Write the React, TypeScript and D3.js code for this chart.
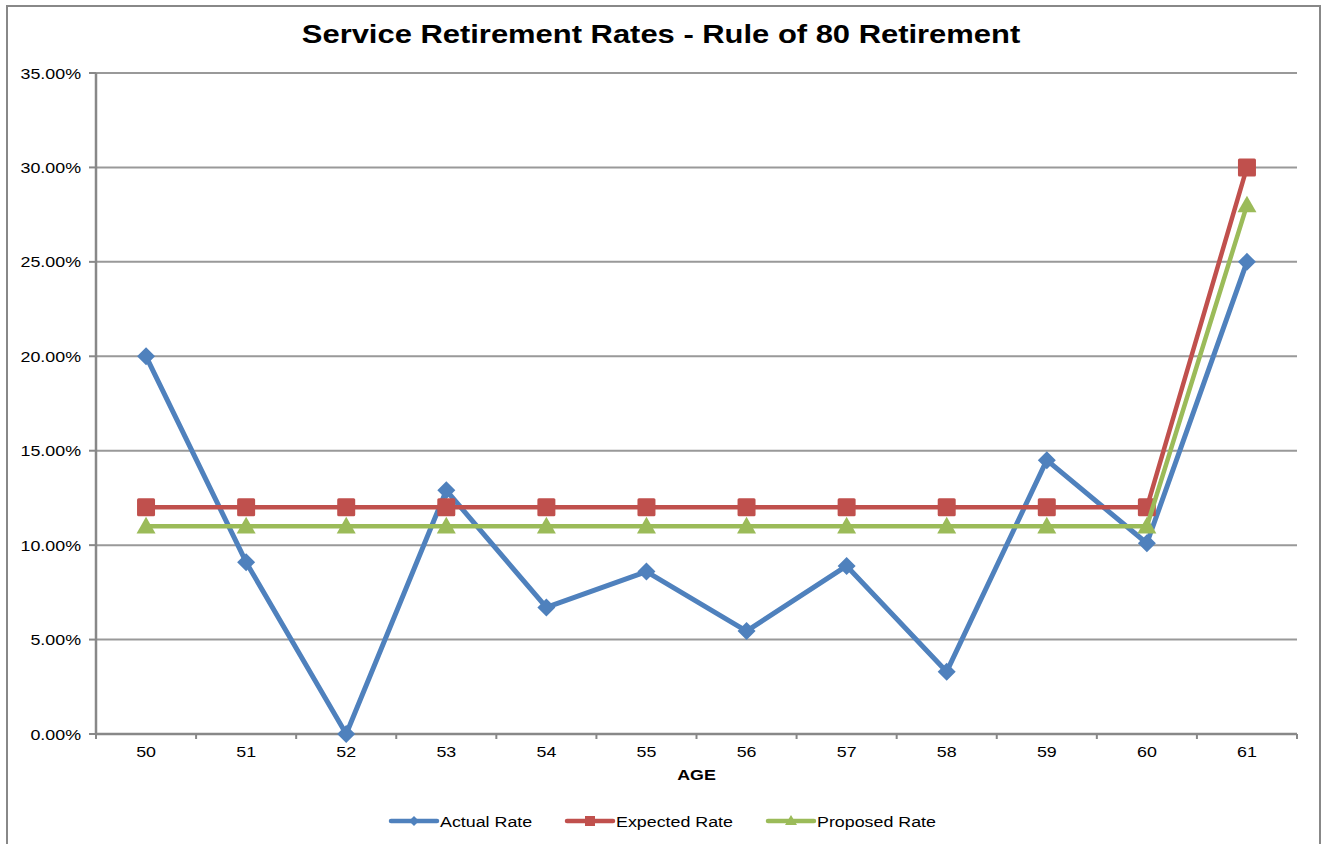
import React from "react";
import * as d3 from "d3";

const ages = ["50", "51", "52", "53", "54", "55", "56", "57", "58", "59", "60", "61"];
const actualRate = [20.0, 9.1, 0.0, 12.9, 6.7, 8.6, 5.45, 8.9, 3.3, 14.5, 10.1, 25.0];
const expectedRate = [12, 12, 12, 12, 12, 12, 12, 12, 12, 12, 12, 30];
const proposedRate = [11, 11, 11, 11, 11, 11, 11, 11, 11, 11, 11, 28];
const yTicks = [0, 5, 10, 15, 20, 25, 30, 35];
const seriesNames = ["Actual Rate", "Expected Rate", "Proposed Rate"];
const colors = ["#4F81BD", "#C0504D", "#9BBB59"];

const W = 1322;
const H = 844;
const left = 96;
const right = 1297;
const top = 73;
const bottom = 734;
const FONT = "'Liberation Sans', Arial, sans-serif";
const SX = 1.19;

function T({ x, y, size, anchor = "start", bold = false, children }: any) {
  return (
    <text
      transform={`translate(${x},${y}) scale(${SX},1)`}
      textAnchor={anchor}
      fontFamily={FONT}
      fontWeight={bold ? "bold" : "normal"}
      fontSize={size}
      fill="#000"
    >
      {children}
    </text>
  );
}

function Marker({ kind, x, y, color }: { kind: number; x: number; y: number; color: string }) {
  if (kind === 0) {
    const s = 9;
    return <path d={`M${x},${y - s}L${x + s},${y}L${x},${y + s}L${x - s},${y}Z`} fill={color} />;
  }
  if (kind === 1) {
    const s = 9;
    return <rect x={x - s} y={y - s} width={2 * s} height={2 * s} rx={1.5} fill={color} />;
  }
  const s = 9.5;
  return <path d={`M${x},${y - s}L${x + s},${y + s * 0.75}L${x - s},${y + s * 0.75}Z`} fill={color} />;
}

export default function App() {
  const x = d3.scaleBand<string>().domain(ages).range([left, right]);
  const y = d3.scaleLinear().domain([0, 35]).range([bottom, top]);
  const cx = (a: string) => (x(a) as number) + x.bandwidth() / 2;
  const data = [actualRate, expectedRate, proposedRate];
  const line = d3
    .line<number>()
    .x((_, i) => cx(ages[i]))
    .y((d) => y(d));
  const boundaries = d3.range(ages.length + 1).map((i) => left + i * x.bandwidth());
  const legendX = [391, 567, 768];
  const legendY = 821;

  return (
    <svg width={W} height={H} style={{ position: "absolute", left: 0, top: 0, background: "#fff" }}>
      <rect x={0} y={0} width={W} height={H} fill="#fff" />
      <rect x={7} y={6} width={1313} height={H + 10} fill="none" stroke="#888" strokeWidth={2} />
      <T x={661} y={43} size={26} anchor="middle" bold>
        Service Retirement Rates - Rule of 80 Retirement
      </T>
      {yTicks.map((t) => (
        <g key={t}>
          {t > 0 && <line x1={left} x2={right} y1={y(t)} y2={y(t)} stroke="#999" strokeWidth={2} />}
          <line x1={left - 7} x2={left} y1={y(t)} y2={y(t)} stroke="#888" strokeWidth={2} />
          <T x={81} y={y(t) + 5.5} size={15} anchor="end">
            {t.toFixed(2)}%
          </T>
        </g>
      ))}
      <line x1={left} x2={left} y1={top} y2={bottom} stroke="#888" strokeWidth={2.5} />
      <line x1={left} x2={right} y1={bottom} y2={bottom} stroke="#888" strokeWidth={2.5} />
      {boundaries.map((b, i) => (
        <line key={i} x1={b} x2={b} y1={bottom} y2={bottom + 5} stroke="#888" strokeWidth={2} />
      ))}
      {ages.map((a) => (
        <T key={a} x={cx(a)} y={757} size={15} anchor="middle">
          {a}
        </T>
      ))}
      <T x={(left + right) / 2} y={780} size={15} anchor="middle" bold>
        AGE
      </T>
      {data.map((d, si) => (
        <g key={si}>
          <path d={line(d) || ""} fill="none" stroke={colors[si]} strokeWidth={si === 0 ? 5 : 4.5} strokeLinejoin="round" />
          {d.map((v, i) => (
            <Marker key={i} kind={si} x={cx(ages[i])} y={y(v)} color={colors[si]} />
          ))}
        </g>
      ))}
      {seriesNames.map((n, si) => {
        const lx = legendX[si];
        const mx = lx + 23;
        return (
          <g key={n}>
            <line x1={lx} x2={lx + 46} y1={legendY} y2={legendY} stroke={colors[si]} strokeWidth={4.5} strokeLinecap="round" />
            {si === 0 && <path d={`M${mx},${legendY - 5}L${mx + 5},${legendY}L${mx},${legendY + 5}L${mx - 5},${legendY}Z`} fill={colors[si]} />}
            {si === 1 && <rect x={mx - 5} y={legendY - 5} width={10} height={10} fill={colors[si]} />}
            {si === 2 && <path d={`M${mx},${legendY - 6}L${mx + 6},${legendY + 4}L${mx - 6},${legendY + 4}Z`} fill={colors[si]} />}
            <T x={lx + 49} y={legendY + 6} size={15}>
              {n}
            </T>
          </g>
        );
      })}
    </svg>
  );
}
